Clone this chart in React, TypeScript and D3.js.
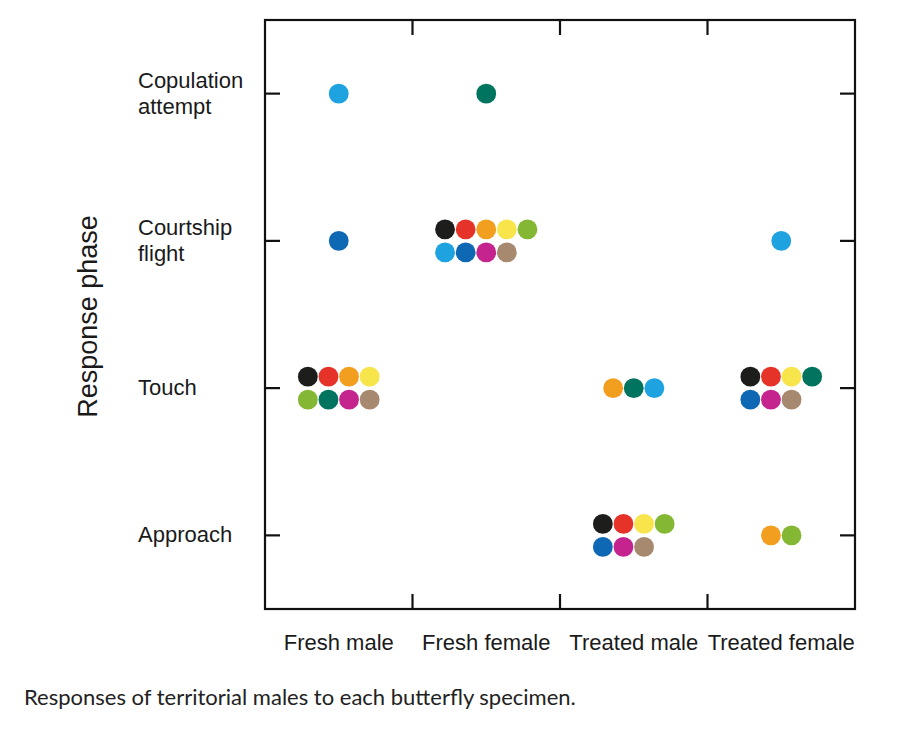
import React, {useRef, useEffect} from "react";
import {select, scaleBand} from "d3";

// categories
const specimens = ["Fresh male", "Fresh female", "Treated male", "Treated female"];
const phases = ["Copulation attempt", "Courtship flight", "Touch", "Approach"];

// one colour per territorial male
const males = ["black", "red", "orange", "yellow", "green", "teal", "sky", "blue", "magenta", "brown"];
const maleColors = ["#1d1d1b", "#e5332a", "#f29e1f", "#f8e44b", "#84b834", "#00745f", "#1ea2e0", "#0e68b3", "#c5238d", "#a6896f"];

// which males reached each phase, per specimen
const freshMale = [
    {phase: "Copulation attempt", who: ["sky"]},
    {phase: "Courtship flight", who: ["blue"]},
    {phase: "Touch", who: ["black", "red", "orange", "yellow", "green", "teal", "magenta", "brown"]},
];
const freshFemale = [
    {phase: "Copulation attempt", who: ["teal"]},
    {phase: "Courtship flight", who: ["black", "red", "orange", "yellow", "green", "sky", "blue", "magenta", "brown"]},
];
const treatedMale = [
    {phase: "Touch", who: ["orange", "teal", "sky"]},
    {phase: "Approach", who: ["black", "red", "yellow", "green", "blue", "magenta", "brown"]},
];
const treatedFemale = [
    {phase: "Courtship flight", who: ["sky"]},
    {phase: "Touch", who: ["black", "red", "yellow", "teal", "blue", "magenta", "brown"]},
    {phase: "Approach", who: ["orange", "green"]},
];
const responses = [freshMale, freshFemale, treatedMale, treatedFemale];

const caption = "Responses of territorial males to each butterfly specimen.";

export default function App() {
    const svgRef = useRef<SVGSVGElement | null>(null);

    const width = 900;
    const height = 731;
    const left = 265;
    const right = 855;
    const top = 20;
    const bottom = 609;
    const tickLen = 15;
    const r = 9.9;
    const dotStep = 20.6;
    const rowStep = 23;

    useEffect(() => {
        const svg = select(svgRef.current);
        if (!svgRef.current) return;
        svg.selectAll("*").remove();

        const x = scaleBand().domain(specimens).range([left, right]);
        const y = scaleBand().domain(phases).range([top, bottom]);
        const color = (id: string) => maleColors[males.indexOf(id)];

        // frame
        svg.append("rect")
            .attr("x", left)
            .attr("y", top)
            .attr("width", right - left)
            .attr("height", bottom - top)
            .attr("fill", "none")
            .attr("stroke", "#111")
            .attr("stroke-width", 2.2);

        // x ticks between columns (top and bottom)
        const xBounds = specimens.slice(1).map((s) => x(s) || 0);
        const ticks = svg.append("g").attr("stroke", "#111").attr("stroke-width", 2.2);
        xBounds.forEach((bx) => {
            ticks.append("line").attr("x1", bx).attr("x2", bx).attr("y1", top).attr("y2", top + tickLen);
            ticks.append("line").attr("x1", bx).attr("x2", bx).attr("y1", bottom).attr("y2", bottom - tickLen);
        });
        // y ticks at phase centres (left and right)
        phases.forEach((p) => {
            const cy = (y(p) || 0) + y.bandwidth() / 2;
            ticks.append("line").attr("x1", left).attr("x2", left + tickLen).attr("y1", cy).attr("y2", cy);
            ticks.append("line").attr("x1", right).attr("x2", right - tickLen).attr("y1", cy).attr("y2", cy);
        });

        // y labels
        const yLabels = svg.append("g")
            .attr("font-family", "'Liberation Sans', Arial, sans-serif")
            .attr("font-size", 22)
            .attr("fill", "#1a1a1a");
        phases.forEach((p) => {
            const cy = (y(p) || 0) + y.bandwidth() / 2;
            const lines = p.split(" ");
            const t = yLabels.append("text").attr("x", 138);
            lines.forEach((line, i) => {
                t.append("tspan")
                    .attr("x", 138)
                    .attr("y", cy + 7 + (i - (lines.length - 1) / 2) * 26)
                    .text(line);
            });
        });

        // axis title
        svg.append("text")
            .attr("transform", `translate(97,${(top + bottom) / 2 + 2}) rotate(-90)`)
            .attr("text-anchor", "middle")
            .attr("font-family", "'Liberation Sans', Arial, sans-serif")
            .attr("font-size", 27)
            .attr("fill", "#1a1a1a")
            .text("Response phase");

        // x labels
        svg.append("g")
            .attr("font-family", "'Liberation Sans', Arial, sans-serif")
            .attr("font-size", 22)
            .attr("fill", "#1a1a1a")
            .attr("text-anchor", "middle")
            .selectAll("text")
            .data(specimens)
            .join("text")
            .attr("x", (d) => (x(d) || 0) + x.bandwidth() / 2)
            .attr("y", bottom + 41)
            .text((d) => d);

        // dots
        const dots: {cx: number; cy: number; fill: string}[] = [];
        specimens.forEach((s, si) => {
            const cx0 = (x(s) || 0) + x.bandwidth() / 2;
            responses[si].forEach((resp) => {
                const cy0 = (y(resp.phase) || 0) + y.bandwidth() / 2;
                const n = resp.who.length;
                const twoRows = n > 5;
                const firstRow = twoRows ? Math.ceil(n / 2) : n;
                const startX = cx0 - ((firstRow - 1) * dotStep) / 2;
                resp.who.forEach((id, i) => {
                    const row = i < firstRow ? 0 : 1;
                    const col = row === 0 ? i : i - firstRow;
                    const cy = twoRows ? cy0 + (row - 0.5) * rowStep : cy0;
                    dots.push({cx: startX + col * dotStep, cy, fill: color(id)});
                });
            });
        });
        svg.append("g")
            .selectAll("circle")
            .data(dots)
            .join("circle")
            .attr("cx", (d) => d.cx)
            .attr("cy", (d) => d.cy)
            .attr("r", r)
            .attr("fill", (d) => d.fill);

        // caption
        svg.append("text")
            .attr("x", 24)
            .attr("y", 705)
            .attr("font-family", "Lato, 'Noto Sans', sans-serif")
            .attr("font-size", 22)
            .attr("fill", "#222")
            .text(caption);
    }, []);

    return (
        <div style={{position: "absolute", left: 0, top: 0, background: "#fff"}}>
            <svg ref={svgRef} width={width} height={height} style={{display: "block"}}></svg>
        </div>
    );
}
